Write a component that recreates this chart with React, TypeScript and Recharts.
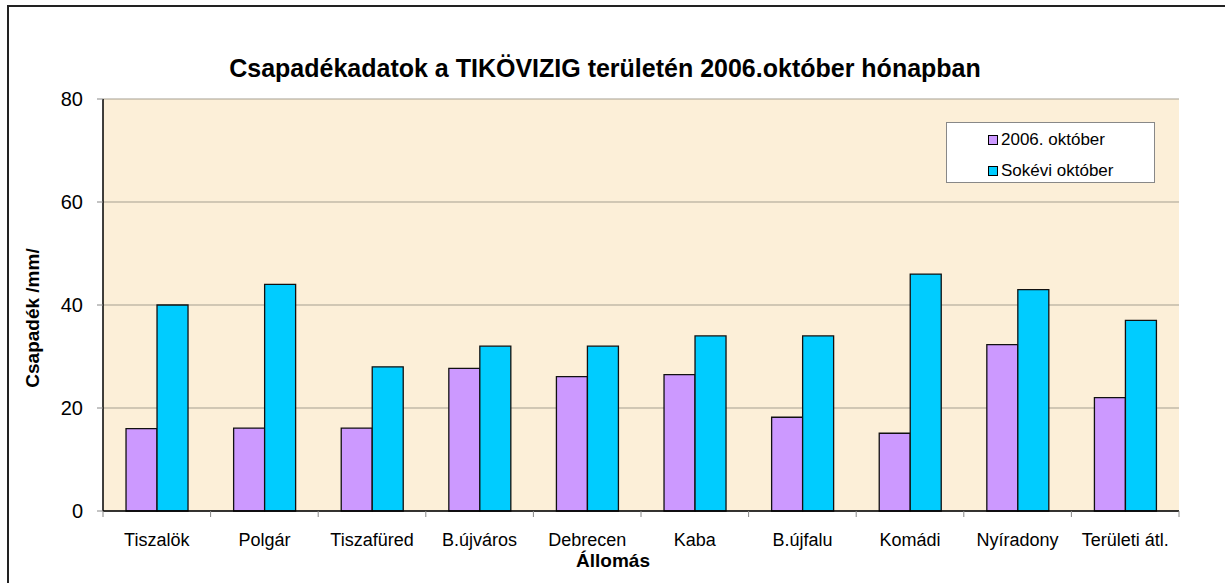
import React from 'react';
import { BarChart, Bar, XAxis, YAxis, CartesianGrid } from 'recharts';

// Állomások és csapadékértékek (mm), leolvasva az eredeti ábráról
const stations = ['Tiszalök', 'Polgár', 'Tiszafüred', 'B.újváros', 'Debrecen', 'Kaba', 'B.újfalu', 'Komádi', 'Nyíradony', 'Területi átl.'];
const oct2006 = [16.0, 16.1, 16.1, 27.7, 26.1, 26.5, 18.2, 15.1, 32.3, 22.0];
const longTermOct = [40.0, 44.0, 28.0, 32.0, 32.0, 34.0, 34.0, 46.0, 43.0, 37.0];
const yTicks = [0, 20, 40, 60, 80];
const seriesNames = ['2006. október', 'Sokévi október'];
const seriesColors = ['#CC99FF', '#00CCFF'];

const chartData = stations.map((name, i) => ({
  name,
  oct2006: oct2006[i],
  longTerm: longTermOct[i],
}));

const FONT = '"Liberation Sans", Arial, sans-serif';

const StationTick = (props: any) => {
  const { x, y, payload, index, visibleTicksCount } = props;
  const half = payload && typeof payload.offset === 'number' && payload.offset > 0 ? payload.offset : 53.8;
  return (
    <g>
      <line x1={x - half} x2={x - half} y1={y} y2={y + 6} stroke="#888" strokeWidth={1} />
      {index === visibleTicksCount - 1 && (
        <line x1={x + half} x2={x + half} y1={y} y2={y + 6} stroke="#888" strokeWidth={1} />
      )}
      <text x={x} y={y + 35} textAnchor="middle" fontSize={18} fontFamily={FONT} fill="#000">
        {payload.value}
      </text>
    </g>
  );
};

export default function App() {
  return (
    <div style={{ position: 'absolute', left: 0, top: 0, width: 1225, height: 583, overflow: 'hidden', background: '#fff', fontFamily: FONT }}>
      <div style={{ position: 'absolute', left: 7, top: 5, width: 1400, height: 800, border: '2px solid #222', boxSizing: 'border-box' }} />
      <BarChart
        width={1225}
        height={583}
        data={chartData}
        margin={{ top: 99, right: 46, bottom: 32, left: 43 }}
        barGap={0}
        barCategoryGap="21.4%"
        style={{ position: 'absolute', left: 0, top: 0 }}
      >
        <CartesianGrid vertical={false} fill="#FCEFD8" stroke="#A59F90" strokeWidth={1} />
        <XAxis
          dataKey="name"
          height={40}
          tickSize={0}
          tickMargin={0}
          tick={(p: any) => <StationTick {...p} />}
          axisLine={{ stroke: '#000', strokeWidth: 1.5 }}
          interval={0}
        />
        <YAxis
          domain={[0, 80]}
          ticks={yTicks}
          width={60}
          tickSize={6}
          tickMargin={14}
          tickLine={{ stroke: '#888' }}
          axisLine={{ stroke: '#000', strokeWidth: 1.5 }}
          tick={{ fontSize: 20, fill: '#000', fontFamily: FONT }}
        />
        <YAxis
          yAxisId="right"
          orientation="right"
          domain={[0, 80]}
          width={0}
          tick={false}
          tickLine={false}
          axisLine={{ stroke: '#999', strokeWidth: 1.5 }}
        />
        <Bar dataKey="oct2006" name={seriesNames[0]} fill={seriesColors[0]} stroke="#111" strokeWidth={1.3} isAnimationActive={false} />
        <Bar dataKey="longTerm" name={seriesNames[1]} fill={seriesColors[1]} stroke="#111" strokeWidth={1.3} isAnimationActive={false} />
      </BarChart>

      <div style={{ position: 'absolute', left: 0, width: 1210, top: 53, textAlign: 'center', fontSize: 25, fontWeight: 'bold', lineHeight: '30px', color: '#000' }}>
        Csapadékadatok a TIKÖVIZIG területén 2006.október hónapban
      </div>

      <div style={{ position: 'absolute', left: 33, top: 318, transform: 'translate(-50%, -50%) rotate(-90deg)', whiteSpace: 'nowrap', fontSize: 19, fontWeight: 'bold', color: '#000' }}>
        Csapadék /mm/
      </div>

      <div style={{ position: 'absolute', left: 613, top: 561, transform: 'translate(-50%, -50%)', whiteSpace: 'nowrap', fontSize: 19, fontWeight: 'bold', color: '#000' }}>
        Állomás
      </div>

      <div style={{ position: 'absolute', left: 946, top: 122, width: 209, height: 61, background: '#fff', border: '1px solid #888', boxSizing: 'border-box' }}>
        {seriesNames.map((n, i) => (
          <div key={n} style={{ position: 'absolute', left: 41, top: 7 + i * 31, height: 20, display: 'flex', alignItems: 'center', fontSize: 17, color: '#000', whiteSpace: 'nowrap' }}>
            <span style={{ display: 'inline-block', width: 8, height: 8, background: seriesColors[i], border: '1px solid #000', marginRight: 3 }} />
            {n}
          </div>
        ))}
      </div>
    </div>
  );
}
